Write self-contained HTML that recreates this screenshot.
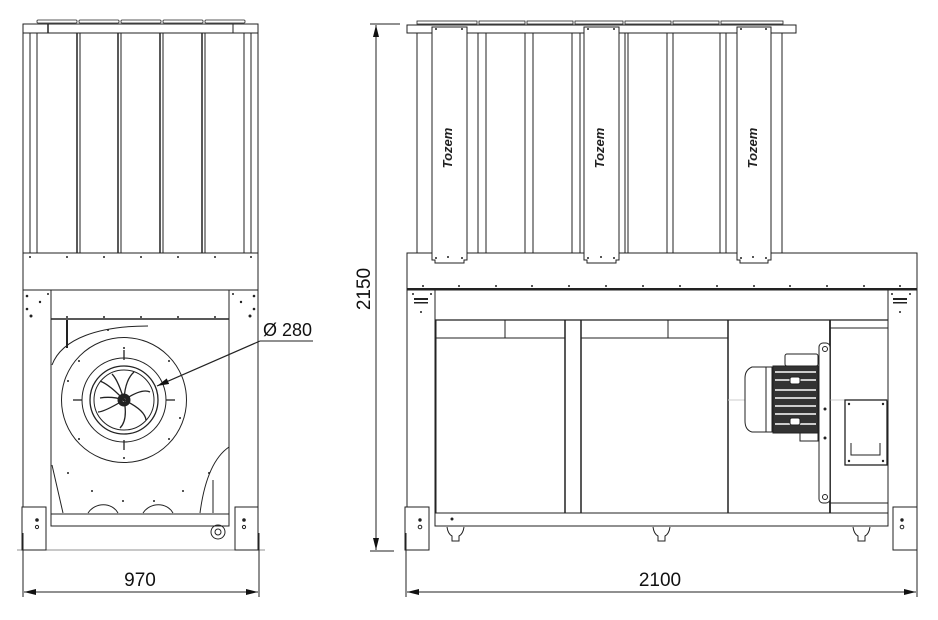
<!DOCTYPE html>
<html><head><meta charset="utf-8"><style>
html,body{margin:0;padding:0;background:#fff}
svg{display:block}
text{font-family:"Liberation Sans",sans-serif}
</style></head><body>
<svg width="938" height="620" viewBox="0 0 938 620" xmlns="http://www.w3.org/2000/svg" fill="none" stroke="#222" stroke-width="1">
<defs>
<marker id="ar" viewBox="0 0 12 6" refX="12" refY="3" markerWidth="12" markerHeight="6" orient="auto-start-reverse" markerUnits="userSpaceOnUse"><path d="M0,0 L12,3 L0,6 Z" fill="#111" stroke="none"/></marker>
</defs>

<!-- ============ LEFT VIEW ============ -->
<g stroke-width="0.8">
<rect x="37" y="20" width="40" height="3" rx="1"/>
<rect x="79" y="20" width="40" height="3" rx="1"/>
<rect x="121" y="20" width="40" height="3" rx="1"/>
<rect x="163" y="20" width="40" height="3" rx="1"/>
<rect x="205" y="20" width="40" height="3" rx="1"/>
</g>
<rect x="23" y="24" width="235" height="9"/>
<line x1="48" y1="24" x2="48" y2="33" stroke-width="1.5"/>
<line x1="233" y1="24" x2="233" y2="33"/>
<g stroke-width="1">
<line x1="23" y1="33" x2="23" y2="253"/>
<line x1="30" y1="33" x2="30" y2="253"/>
<line x1="37" y1="33" x2="37" y2="253"/>
<line x1="77" y1="33" x2="77" y2="253" stroke-width="1.5"/>
<line x1="80" y1="33" x2="80" y2="253"/>
<line x1="118" y1="33" x2="118" y2="253" stroke-width="1.5"/>
<line x1="121" y1="33" x2="121" y2="253"/>
<line x1="160" y1="33" x2="160" y2="253" stroke-width="1.5"/>
<line x1="163" y1="33" x2="163" y2="253"/>
<line x1="202" y1="33" x2="202" y2="253" stroke-width="1.5"/>
<line x1="205" y1="33" x2="205" y2="253"/>
<line x1="244" y1="33" x2="244" y2="253"/>
<line x1="251" y1="33" x2="251" y2="253"/>
<line x1="258" y1="33" x2="258" y2="253"/>
</g>
<rect x="23" y="253" width="235" height="37"/>
<g fill="#222" stroke="none">
<circle cx="30" cy="257" r="1"/><circle cx="67" cy="257" r="1"/><circle cx="104" cy="257" r="1"/><circle cx="141" cy="257" r="1"/><circle cx="178" cy="257" r="1"/><circle cx="215" cy="257" r="1"/><circle cx="251" cy="257" r="1"/>
<circle cx="67" cy="317" r="1"/><circle cx="104" cy="317" r="1"/><circle cx="141" cy="317" r="1"/><circle cx="178" cy="317" r="1"/><circle cx="215" cy="317" r="1"/>
<circle cx="27" cy="296" r="1.3"/><circle cx="48" cy="294" r="1"/><circle cx="40" cy="302" r="1.2"/><circle cx="27" cy="309" r="1.3"/><circle cx="31" cy="316" r="1.5"/>
<circle cx="254" cy="296" r="1.3"/><circle cx="233" cy="294" r="1"/><circle cx="241" cy="302" r="1.2"/><circle cx="254" cy="309" r="1.3"/><circle cx="250" cy="316" r="1.5"/>
</g>
<line x1="23" y1="290" x2="23" y2="550"/>
<line x1="51" y1="290" x2="51" y2="514"/>
<line x1="51" y1="319" x2="229" y2="319" stroke-width="1.5"/>
<line x1="229" y1="290" x2="229" y2="514"/>
<line x1="258" y1="290" x2="258" y2="550"/>
<rect x="51" y="514" width="178" height="12"/>
<path d="M22,507 H46 V550 H22 Z" fill="#fff"/>
<path d="M235,507 H258 V550 H235 Z" fill="#fff"/>
<circle cx="37" cy="520" r="1.3" fill="#222"/><circle cx="37" cy="527" r="1.6"/>
<circle cx="244" cy="520" r="1.3" fill="#222"/><circle cx="244" cy="527" r="1.6"/>
<circle cx="218" cy="532" r="7"/><circle cx="218" cy="532" r="3"/>
<line x1="67" y1="320" x2="67" y2="348" stroke-width="2"/>
<path d="M52,365 C62,338 100,326 148,326" />
<path d="M52,465 L63,513"/>
<path d="M229,447 C210,460 203,490 200,513"/>
<path d="M213,480 L213,513"/>
<path d="M88,513 C95,502 112,502 118,513"/>
<path d="M143,513 C150,502 167,502 173,513"/>
<circle cx="124" cy="400" r="62.5"/>
<circle cx="124" cy="400" r="42"/>
<circle cx="124" cy="400" r="34" stroke-width="1.3"/>
<circle cx="124" cy="400" r="30"/>
<circle cx="124" cy="400" r="6" fill="#222"/>
<circle cx="124" cy="400" r="2.5" fill="#fff"/>
<g stroke-width="1.3">
<line x1="124" y1="350" x2="124" y2="360"/><line x1="124" y1="440" x2="124" y2="450"/>
<line x1="73" y1="400" x2="82" y2="400"/><line x1="166" y1="400" x2="175" y2="400"/>
<path d="M124,400 Q110,385 100,381"/><path d="M124,400 Q125,380 134,372"/><path d="M124,400 Q142,388 150,392"/>
<path d="M124,400 Q145,410 146,420"/><path d="M124,400 Q128,420 120,428"/><path d="M124,400 Q104,412 98,412"/>
<path d="M124,400 Q112,396 100,398"/><path d="M124,400 Q118,380 112,374"/>
</g>
<g fill="#222" stroke="none">
<circle cx="79" cy="361" r="1"/><circle cx="169" cy="361" r="1"/><circle cx="79" cy="439" r="1"/><circle cx="169" cy="439" r="1"/>
<circle cx="124" cy="348" r="1"/><circle cx="124" cy="458" r="1"/><circle cx="68" cy="381" r="1"/><circle cx="180" cy="418" r="1"/>
<circle cx="108" cy="330" r="1"/><circle cx="68" cy="473" r="1"/><circle cx="92" cy="491" r="1"/><circle cx="123" cy="501" r="1"/><circle cx="154" cy="501" r="1"/><circle cx="183" cy="491" r="1"/><circle cx="209" cy="473" r="1"/>
</g>
<line x1="260" y1="341" x2="313" y2="341"/>
<line x1="260" y1="341" x2="157" y2="386" marker-end="url(#ar)" stroke-width="1.2"/>
<text x="263" y="336" font-family="Liberation Serif,serif" font-size="18" fill="#111" stroke="none">Ø 280</text>

<line x1="23" y1="533" x2="23" y2="597"/>
<line x1="259" y1="533" x2="259" y2="597"/>
<line x1="17" y1="550" x2="265" y2="550" stroke-width="0.6"/>
<line x1="24" y1="592" x2="258" y2="592" marker-start="url(#ar)" marker-end="url(#ar)"/>
<text x="140" y="586" text-anchor="middle" font-size="19" fill="#111" stroke="none">970</text>

<!-- ============ RIGHT VIEW ============ -->
<line x1="370" y1="24" x2="400" y2="24"/>
<line x1="370" y1="551" x2="394" y2="551"/>
<line x1="376" y1="25" x2="376" y2="550" marker-start="url(#ar)" marker-end="url(#ar)"/>
<text transform="translate(376,289) rotate(-90)" text-anchor="middle" y="-6" font-size="19" fill="#111" stroke="none">2150</text>

<g stroke-width="0.8">
<rect x="417" y="21" width="60" height="3"/><rect x="479" y="21" width="46" height="3"/><rect x="527" y="21" width="46" height="3"/><rect x="575" y="21" width="48" height="3"/><rect x="625" y="21" width="46" height="3"/><rect x="673" y="21" width="46" height="3"/><rect x="721" y="21" width="62" height="3"/>
</g>
<rect x="407" y="25" width="389" height="8"/>
<g>
<line x1="417" y1="33" x2="417" y2="253"/>
<line x1="478" y1="33" x2="478" y2="253"/><line x1="486" y1="33" x2="486" y2="253"/>
<line x1="525" y1="33" x2="525" y2="253"/><line x1="533" y1="33" x2="533" y2="253"/>
<line x1="572" y1="33" x2="572" y2="253"/><line x1="580" y1="33" x2="580" y2="253"/>
<line x1="625" y1="33" x2="625" y2="253"/><line x1="628" y1="33" x2="628" y2="253"/>
<line x1="667" y1="33" x2="667" y2="253"/><line x1="673" y1="33" x2="673" y2="253"/>
<line x1="720" y1="33" x2="720" y2="253"/><line x1="726" y1="33" x2="726" y2="253"/>
<line x1="782" y1="33" x2="782" y2="253"/>
</g>
<rect x="407" y="253" width="510" height="37"/>
<line x1="407" y1="289" x2="917" y2="289" stroke-width="2"/>
<g fill="#fff">
<path d="M432,27 H467 V260 H464 V263 H435 V260 H432 Z"/>
<path d="M584,27 H619 V260 H616 V263 H587 V260 H584 Z"/>
<path d="M737,27 H771 V260 H768 V263 H740 V260 H737 Z"/>
</g>
<g fill="#222" stroke="none">
<circle cx="436" cy="29" r="1"/><circle cx="462" cy="29" r="1"/><circle cx="448" cy="257" r="1"/><circle cx="436" cy="258" r="1"/><circle cx="462" cy="258" r="1"/>
<circle cx="588" cy="29" r="1"/><circle cx="614" cy="29" r="1"/><circle cx="601" cy="257" r="1"/><circle cx="588" cy="258" r="1"/><circle cx="614" cy="258" r="1"/>
<circle cx="741" cy="29" r="1"/><circle cx="766" cy="29" r="1"/><circle cx="753" cy="257" r="1"/><circle cx="741" cy="258" r="1"/><circle cx="766" cy="258" r="1"/>
</g>
<g font-size="13" font-style="italic" font-weight="bold" fill="#222" stroke="none">
<text transform="translate(452,148) rotate(-90)" text-anchor="middle">Tozem</text>
<text transform="translate(604,148) rotate(-90)" text-anchor="middle">Tozem</text>
<text transform="translate(757,148) rotate(-90)" text-anchor="middle">Tozem</text>
</g>
<g fill="#222" stroke="none">
<circle cx="423" cy="286" r="1"/><circle cx="459" cy="286" r="1"/><circle cx="496" cy="286" r="1"/><circle cx="532" cy="286" r="1"/><circle cx="569" cy="286" r="1"/><circle cx="606" cy="286" r="1"/><circle cx="643" cy="286" r="1"/><circle cx="680" cy="286" r="1"/><circle cx="717" cy="286" r="1"/><circle cx="754" cy="286" r="1"/><circle cx="790" cy="286" r="1"/><circle cx="827" cy="286" r="1"/><circle cx="864" cy="286" r="1"/><circle cx="900" cy="286" r="1"/>
</g>
<line x1="407" y1="290" x2="407" y2="550"/>
<line x1="435" y1="290" x2="435" y2="513"/>
<line x1="888" y1="290" x2="888" y2="513"/>
<line x1="917" y1="290" x2="917" y2="550"/>
<line x1="435" y1="320" x2="888" y2="320" stroke-width="1.3"/>
<rect x="435" y="513" width="453" height="13"/>
<g fill="#222" stroke="none">
<circle cx="413" cy="294" r="1"/><circle cx="431" cy="294" r="1"/><rect x="414" y="298" width="14" height="2"/><rect x="414" y="302" width="14" height="1.5"/><circle cx="421" cy="312" r="1"/>
<circle cx="892" cy="294" r="1"/><circle cx="910" cy="294" r="1"/><rect x="893" y="298" width="14" height="2"/><rect x="893" y="302" width="14" height="1.5"/><circle cx="900" cy="312" r="1"/>
</g>
<rect x="436" y="320" width="129" height="193"/>
<line x1="436" y1="338" x2="565" y2="338"/><line x1="505" y1="320" x2="505" y2="338"/>
<line x1="565" y1="320" x2="565" y2="513" stroke-width="1.5"/>
<rect x="581" y="320" width="147" height="193"/>
<line x1="581" y1="320" x2="581" y2="513" stroke-width="1.5"/>
<line x1="728" y1="320" x2="728" y2="513" stroke-width="1.5"/>
<line x1="581" y1="338" x2="728" y2="338"/><line x1="668" y1="320" x2="668" y2="338"/>
<line x1="830" y1="320" x2="830" y2="513" stroke-width="1.8"/>
<line x1="830" y1="328" x2="888" y2="328"/>
<line x1="830" y1="503" x2="888" y2="503"/>
<line x1="728" y1="400" x2="888" y2="400" stroke="#ccc"/>
<path d="M772,367 H752 Q745,370 745,378 V421 Q745,430 752,432 H772 Z" fill="#fff"/>
<line x1="766" y1="367" x2="766" y2="432"/>
<rect x="773" y="366" width="45" height="67" fill="#333"/>
<g stroke="#fff" stroke-width="1.5">
<line x1="775" y1="372" x2="816" y2="372"/><line x1="775" y1="380" x2="816" y2="380"/><line x1="775" y1="390" x2="816" y2="390"/><line x1="775" y1="398" x2="816" y2="398"/><line x1="775" y1="406" x2="816" y2="406"/><line x1="775" y1="414" x2="816" y2="414"/><line x1="775" y1="424" x2="816" y2="424"/>
</g>
<rect x="785" y="354" width="33" height="12" rx="2" fill="#fff"/>
<rect x="790" y="377" width="10" height="7" rx="2" fill="#fff"/>
<rect x="790" y="418" width="10" height="7" rx="2" fill="#fff"/>
<rect x="800" y="433" width="18" height="8" fill="#fff"/>
<rect x="819" y="343" width="11" height="160" rx="4" fill="#fff"/>
<circle cx="825" cy="349" r="2.5"/><circle cx="825" cy="497" r="2.5"/>
<circle cx="825" cy="409" r="1" fill="#222"/><circle cx="825" cy="438" r="1" fill="#222"/>
<rect x="845" y="400" width="42" height="65" stroke-width="1.3"/>
<path d="M851,443 V455 H880 V443" />
<g fill="#222" stroke="none"><circle cx="849" cy="404" r="1.2"/><circle cx="883" cy="404" r="1.2"/><circle cx="849" cy="461" r="1.2"/><circle cx="883" cy="461" r="1.2"/></g>
<path d="M405,507 H429 V550 H405 Z" fill="#fff"/>
<path d="M893,507 H917 V550 H893 Z" fill="#fff"/>
<circle cx="420" cy="520" r="1.2" fill="#222"/><circle cx="420" cy="527" r="1.8"/>
<circle cx="902" cy="520" r="1.2" fill="#222"/><circle cx="902" cy="527" r="1.8"/>
<circle cx="452" cy="519" r="1" fill="#222"/>
<g>
<path d="M447,527 Q448,534 452,536 V541 H459 V536 Q463,534 464,527"/>
<path d="M653,527 Q654,534 658,536 V541 H665 V536 Q669,534 670,527"/>
<path d="M853,527 Q854,534 858,536 V541 H865 V536 Q869,534 870,527"/>
</g>
<line x1="406" y1="533" x2="406" y2="597"/>
<line x1="917" y1="533" x2="917" y2="597"/>
<line x1="407" y1="592" x2="916" y2="592" marker-start="url(#ar)" marker-end="url(#ar)"/>
<text x="660" y="586" text-anchor="middle" font-size="19" fill="#111" stroke="none">2100</text>
</svg>
</body></html>
